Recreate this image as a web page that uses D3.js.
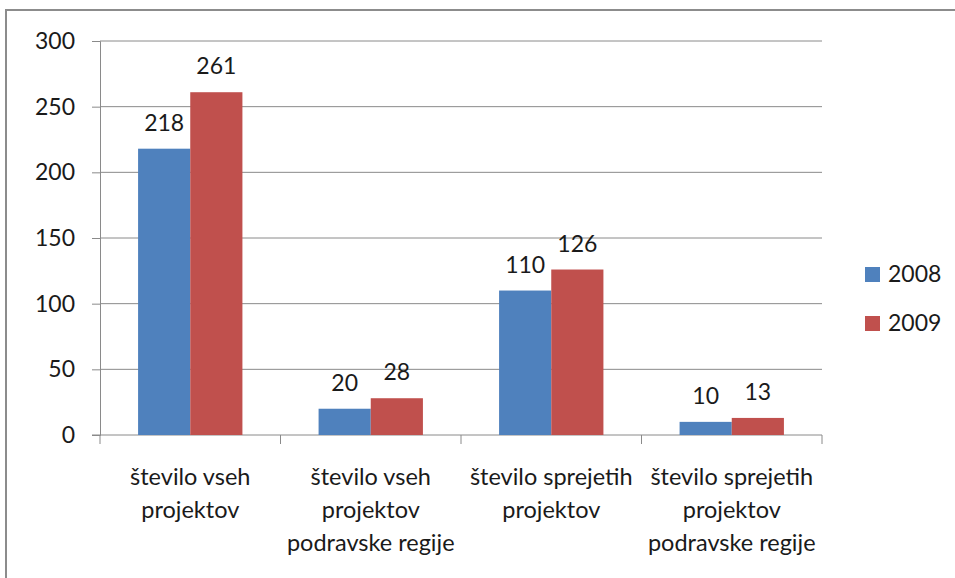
<!DOCTYPE html>
<html>
<head>
<meta charset="utf-8">
<script src="https://cdn.jsdelivr.net/npm/d3@7"></script>
<style>
  body { margin: 0; background: #fff; }
  text { font-family: Lato, "Open Sans", sans-serif; fill: #1a1a1a; }
</style>
</head>
<body>
<script>
// chart data
const categories = [
  ["število vseh", "projektov"],
  ["število vseh", "projektov", "podravske regije"],
  ["število sprejetih", "projektov"],
  ["število sprejetih", "projektov", "podravske regije"]
];
const seriesNames = ["2008", "2009"];
const values2008 = [218, 20, 110, 10];
const values2009 = [261, 28, 126, 13];
const yTicks = [0, 50, 100, 150, 200, 250, 300];
const colors = ["#4F81BD", "#C0504D"];

const width = 955, height = 578;
const svg = d3.select("body").append("svg")
  .attr("width", width)
  .attr("height", height);

// outer frame (runs off the right and bottom edges)
svg.append("rect")
  .attr("x", 6).attr("y", 10)
  .attr("width", 1000).attr("height", 600)
  .attr("fill", "none")
  .attr("stroke", "#8c8c8c")
  .attr("stroke-width", 2);

const plotLeft = 100, plotRight = 822, plotTop = 41, plotBottom = 435;

const x = d3.scaleBand()
  .domain(d3.range(categories.length))
  .range([plotLeft, plotRight]);

const x1 = d3.scaleBand()
  .domain(seriesNames)
  .range([0, x.bandwidth()])
  .paddingOuter(0.73);

const y = d3.scaleLinear().domain([0, 300]).range([plotBottom, plotTop]);

// gridlines
svg.append("g").selectAll("line")
  .data(yTicks.slice(1))
  .join("line")
    .attr("x1", plotLeft).attr("x2", plotRight)
    .attr("y1", d => y(d)).attr("y2", d => y(d))
    .attr("stroke", "#8a8a8a")
    .attr("stroke-width", 1);

// y axis
const yAxis = svg.append("g")
  .attr("transform", `translate(${plotLeft},0)`)
  .call(d3.axisLeft(y).tickValues(yTicks).tickSize(8).tickPadding(17));
yAxis.select(".domain").attr("stroke", "#8a8a8a");
yAxis.selectAll(".tick line").attr("stroke", "#8a8a8a");
yAxis.selectAll(".tick text")
  .attr("font-size", 23)
  .attr("font-family", "Lato, sans-serif")
  .attr("fill", "#1a1a1a");

// x axis line + ticks between categories
svg.append("line")
  .attr("x1", plotLeft - 8).attr("x2", plotRight)
  .attr("y1", plotBottom).attr("y2", plotBottom)
  .attr("stroke", "#8a8a8a");
svg.append("g").selectAll("line")
  .data(d3.range(categories.length + 1))
  .join("line")
    .attr("x1", i => plotLeft + i * x.bandwidth())
    .attr("x2", i => plotLeft + i * x.bandwidth())
    .attr("y1", plotBottom).attr("y2", plotBottom + 9)
    .attr("stroke", "#8a8a8a");

// category labels
svg.append("g").selectAll("text")
  .data(categories)
  .join("text")
    .attr("text-anchor", "middle")
    .attr("font-size", 23.5)
    .each(function (lines, i) {
      d3.select(this).selectAll("tspan")
        .data(lines)
        .join("tspan")
          .attr("x", x(i) + x.bandwidth() / 2)
          .attr("y", (d, j) => 485 + j * 33)
          .text(d => d);
    });

// bars
const rows = categories.map((c, i) => [
  { s: seriesNames[0], v: values2008[i], c: colors[0] },
  { s: seriesNames[1], v: values2009[i], c: colors[1] }
]);

const groups = svg.append("g").selectAll("g")
  .data(rows)
  .join("g")
    .attr("transform", (d, i) => `translate(${x(i)},0)`);

groups.selectAll("rect")
  .data(d => d)
  .join("rect")
    .attr("x", d => x1(d.s))
    .attr("y", d => y(d.v))
    .attr("width", x1.bandwidth())
    .attr("height", d => y(0) - y(d.v))
    .attr("fill", d => d.c);

groups.selectAll("text")
  .data(d => d)
  .join("text")
    .attr("x", d => x1(d.s) + x1.bandwidth() / 2)
    .attr("y", d => y(d.v) - 18)
    .attr("text-anchor", "middle")
    .attr("font-size", 23)
    .text(d => d.v);

// legend
const legend = svg.append("g").selectAll("g")
  .data(seriesNames)
  .join("g")
    .attr("transform", (d, i) => `translate(865,${267 + i * 49})`);
legend.append("rect")
  .attr("width", 15).attr("height", 15)
  .attr("fill", (d, i) => colors[i]);
legend.append("text")
  .attr("x", 23).attr("y", 15)
  .attr("font-size", 23)
  .text(d => d);
</script>
</body>
</html>
